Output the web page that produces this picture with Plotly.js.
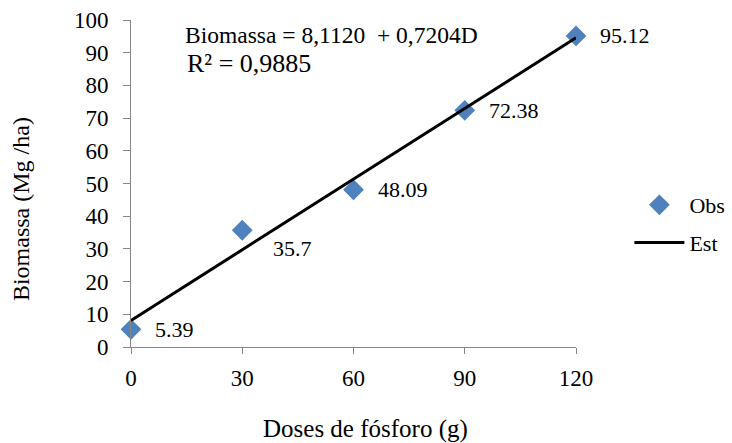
<!DOCTYPE html>
<html>
<head>
<meta charset="utf-8">
<script src="https://cdn.plot.ly/plotly-3.0.1.min.js"></script>
<style>html,body{margin:0;padding:0;background:#fff;}#chart{width:732px;height:443px;}</style>
</head>
<body>
<div id="chart"></div>
<script>
const doses = [0, 30, 60, 90, 120];
const obs = [5.39, 35.7, 48.09, 72.38, 95.12];
const obsLabels = ["5.39", "35.7", "48.09", "72.38", "95.12"];
const estX = [0, 120];
const estY = [8.112, 94.56];
const xTicks = [0, 30, 60, 90, 120];
const yTicks = [0, 10, 20, 30, 40, 50, 60, 70, 80, 90, 100];
const labelXShift = [22, 29, 22, 22, 22];
const labelYShift = [0, -18, 0, 0, 0];

const FONT = "Liberation Serif, Times New Roman, serif";

const traces = [
  {
    x: doses, y: obs, type: "scatter", mode: "markers", name: "Obs",
    marker: {symbol: "diamond", size: 16, color: "#4F81BD"},
    cliponaxis: false, legendgroup: "a"
  },
  {
    x: estX, y: estY, type: "scatter", mode: "lines", name: "Est",
    line: {color: "#000000", width: 3},
    cliponaxis: false, legendgroup: "b"
  }
];

const annotations = doses.map((d, i) => ({
  x: d, y: obs[i], xref: "x", yref: "y", text: obsLabels[i],
  showarrow: false, xanchor: "left", yanchor: "middle",
  xshift: labelXShift[i], yshift: labelYShift[i],
  font: {family: FONT, size: 22, color: "#000"}
}));
annotations.push({
  xref: "paper", yref: "paper", x: 0.117, y: 0.955, xanchor: "left", yanchor: "middle",
  text: "Biomassa = 8,1120&nbsp;&nbsp;+ 0,7204D", showarrow: false,
  font: {family: FONT, size: 23.5, color: "#000"}
});
annotations.push({
  xref: "paper", yref: "paper", x: 0.121, y: 0.868, xanchor: "left", yanchor: "middle",
  text: "R² = 0,9885", showarrow: false,
  font: {family: FONT, size: 26, color: "#000"}
});
annotations.push({
  xref: "paper", yref: "paper", x: -0.247, y: 0.422, xanchor: "center", yanchor: "middle",
  text: "Biomassa (Mg /ha)", textangle: -90, showarrow: false,
  font: {family: FONT, size: 24, color: "#000"}
});
annotations.push({
  xref: "paper", yref: "paper", x: 0.526, y: -0.252, xanchor: "center", yanchor: "middle",
  text: "Doses de fósforo (g)", showarrow: false,
  font: {family: FONT, size: 25, color: "#000"}
});

const layout = {
  width: 732, height: 443,
  margin: {l: 131, r: 156, t: 20, b: 96, autoexpand: false},
  paper_bgcolor: "#fff", plot_bgcolor: "#fff",
  font: {family: FONT, size: 23, color: "#000"},
  showlegend: true,
  legend: {x: 1.12, y: 0.376, xanchor: "left", yanchor: "middle",
           font: {family: FONT, size: 22, color: "#000"}, tracegroupgap: 6,
           itemwidth: 50, bgcolor: "rgba(0,0,0,0)"},
  xaxis: {
    range: [0, 120], tickvals: xTicks, ticktext: xTicks.map(String),
    showgrid: false, zeroline: false, showline: true, linecolor: "#868686", linewidth: 1,
    ticks: "outside", ticklen: 6, tickcolor: "#868686", ticklabelstandoff: 4,
    tickfont: {family: FONT, size: 23, color: "#000"}
  },
  yaxis: {
    range: [0, 100], tickvals: yTicks, ticktext: yTicks.map(String),
    showgrid: false, zeroline: false, showline: true, linecolor: "#868686", linewidth: 1,
    ticks: "outside", ticklen: 7, tickcolor: "#868686", ticklabelstandoff: 10,
    tickfont: {family: FONT, size: 23, color: "#000"}
  },
  annotations: annotations
};

Plotly.newPlot("chart", traces, layout, {staticPlot: true, displayModeBar: false});
</script>
</body>
</html>
